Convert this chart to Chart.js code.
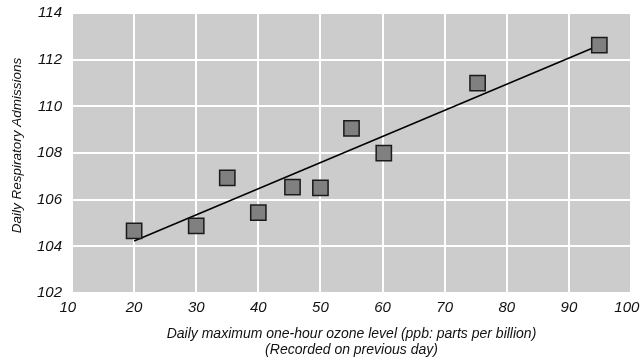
<!DOCTYPE html>
<html>
<head>
<meta charset="utf-8">
<script src="https://cdn.jsdelivr.net/npm/chart.js@4/dist/chart.umd.min.js"></script>
<style>
  html, body { margin: 0; padding: 0; background: #ffffff; }
  #wrap { width: 640px; height: 362px; position: relative; }
</style>
</head>
<body>
<div id="wrap"><canvas id="c" width="640" height="362"></canvas></div>
<script>
// Data
const ozoneLevels = [20, 30, 35, 40, 45.5, 50, 55, 60.2, 75.3, 94.9];
const admissions = [104.66, 104.88, 106.93, 105.44, 106.54, 106.51, 109.06, 107.99, 110.99, 112.62];
const trendX = [20, 95];
const trendY = [104.23, 112.63];
const xTicks = [10, 20, 30, 40, 50, 60, 70, 80, 90, 100];
const yTicks = [102, 104, 106, 108, 110, 112, 114];
const xTitle = ['Daily maximum one-hour ozone level (ppb: parts per billion)', '(Recorded on previous day)'];
const yTitle = 'Daily Respiratory Admissions';

const FONT = "'Liberation Sans', Arial, sans-serif";

const plotBg = {
  id: 'plotBg',
  beforeDraw(chart) {
    const a = chart.chartArea, ctx = chart.ctx;
    ctx.save();
    ctx.fillStyle = '#cccccc';
    ctx.fillRect(a.left, a.top, a.right - a.left, a.bottom - a.top);
    ctx.restore();
  }
};

new Chart(document.getElementById('c'), {
  type: 'scatter',
  data: {
    datasets: [
      {
        label: 'Admissions',
        data: ozoneLevels.map((x, i) => ({ x, y: admissions[i] })),
        pointStyle: 'rect',
        pointRadius: 10.8,
        pointHoverRadius: 10.8,
        backgroundColor: '#808080',
        borderColor: '#1a1a1a',
        borderWidth: 1.5,
        order: 0
      },
      {
        type: 'line',
        label: 'Trend',
        data: trendX.map((x, i) => ({ x, y: trendY[i] })),
        borderColor: '#000000',
        borderWidth: 1.5,
        pointRadius: 0,
        fill: false,
        order: 1
      }
    ]
  },
  options: {
    responsive: false,
    animation: false,
    devicePixelRatio: 1,
    layout: { autoPadding: false, padding: { top: 13, right: 9, left: 0, bottom: 0 } },
    plugins: {
      legend: { display: false },
      tooltip: { enabled: false }
    },
    scales: {
      x: {
        type: 'linear',
        min: xTicks[0],
        max: xTicks[xTicks.length - 1],
        afterBuildTicks(scale) { scale.ticks = xTicks.map(v => ({ value: v })); },
        afterFit(scale) { scale.height = 69; scale.paddingLeft = 0; scale.paddingRight = 0; },
        grid: { color: '#ffffff', lineWidth: 2, drawTicks: false },
        border: { display: false },
        ticks: {
          padding: 6,
          color: '#111111',
          font: { family: FONT, size: 15, style: 'italic' },
          maxRotation: 0,
          autoSkip: false,
          callback(value, index, ticks) {
            const last = ticks.length - 1;
            return (index === 0 || index === last) ? String(value) + '  ' : String(value);
          }
        },
        title: {
          display: true,
          text: xTitle,
          color: '#111111',
          font: { family: FONT, size: 14, style: 'italic', lineHeight: '16px' },
          padding: { top: 0, bottom: 4 }
        }
      },
      y: {
        type: 'linear',
        min: yTicks[0],
        max: yTicks[yTicks.length - 1],
        afterBuildTicks(scale) { scale.ticks = yTicks.map(v => ({ value: v })); },
        afterFit(scale) { scale.width = 72; scale.paddingTop = 0; scale.paddingBottom = 0; },
        grid: { color: '#ffffff', lineWidth: 2, drawTicks: false },
        border: { display: false },
        ticks: {
          padding: 10,
          color: '#111111',
          font: { family: FONT, size: 15, style: 'italic' },
          autoSkip: false
        },
        title: {
          display: true,
          text: '    ' + yTitle,
          color: '#111111',
          font: { family: FONT, size: 13.5, style: 'italic', lineHeight: '16px' },
          padding: { top: 9, bottom: 0 }
        }
      }
    }
  },
  plugins: [plotBg]
});
</script>
</body>
</html>
